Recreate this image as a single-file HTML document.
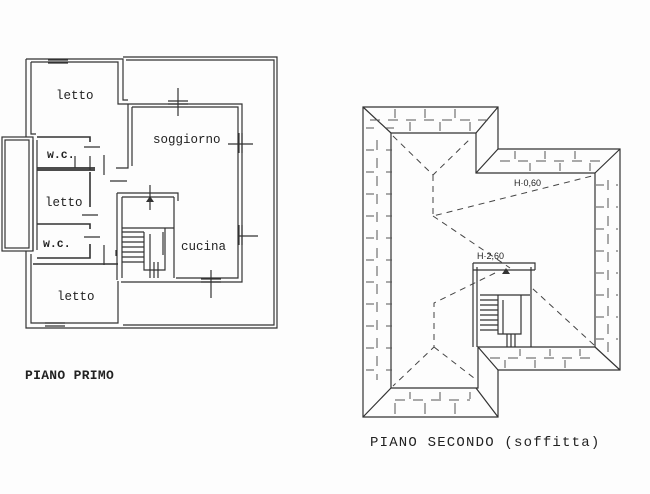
<!DOCTYPE html>
<html><head><style>
html,body{margin:0;padding:0;background:#fff;}
svg{display:block}
text{font-family:"Liberation Mono",monospace;fill:#222;}
</style></head><body>
<svg width="650" height="494" viewBox="0 0 650 494" xmlns="http://www.w3.org/2000/svg">
<rect width="650" height="494" fill="#fdfdfd"/>
<g stroke="#333" fill="none" stroke-width="1.2">
<path d="M123 57 H277 V328 H123"/>
<path d="M126 60 H274 V325 H123"/>
<path d="M26 59 H123 V100 H128"/>
<path d="M31 62 H118 V104 H128"/>
<path d="M26 59 V137 M31 62 V134 H36"/>
<path d="M26 251 V328 H123 M31 254 V323 H118 V281"/>
<rect x="2" y="137" width="31" height="114"/>
<rect x="5" y="140" width="24" height="108"/>
<path d="M33 140 V251 M37 140 V250"/>
<path d="M128 104 H242 V282 H121"/>
<path d="M132 107 H238 V278 H176"/>
<path d="M128 104 V168 H116 M132 107 V166"/>
<path d="M37 137 H90 V142" stroke-width="1.6"/>
<path d="M37 168 H95 M37 170 H95" stroke-width="1.8"/>
<path d="M90 156 V170 M75 156 V168"/>
<path d="M90 172 V207" stroke-width="1.6"/>
<path d="M37 224 H90 V229" stroke-width="1.6"/>
<path d="M90 244 V258 H37" stroke-width="1.6"/>
<path d="M33 264 H118" stroke-width="1.4"/>
<path d="M84 147 H100 M110 181 H127 M82 215 H98 M84 237 H100"/>
<path d="M104 155 V175 M104 245 V265 M116 250 V256"/>
<path d="M117 193 H178 V201 M117 193 V280 M122 197 H174 M174 197 V278 M122 197 V278"/>
<path d="M122 228 H174 M122 232 H144 M122 237 H144 M122 242 H144 M122 247 H144 M122 252 H144 M122 257 H144 M122 262 H144"/>
<path d="M144 232 V270 H165 V228 M165 232 V262 M150 234 V262"/>
<path d="M150 262 V278 M154 262 V278 M158 262 V278"/>
<path d="M150 185 V210 M163 232 V255"/>
<path d="M48 60 H68 M48 63 H68 M168 101 H188 M168 104 H188 M239 133 V153 M242 133 V153 M239 225 V245 M242 225 V245 M201 279 H221 M201 282 H221 M45 326 H65 M45 323 H65"/>
<path d="M178 88 V116 M228 144 H253 M211 270 V298 M238 236 H258"/>
<!-- RIGHT PLAN -->
<path d="M363 107 H498 V149 H620 V370 H498 V417 H363 Z"/>
<path d="M391 133 H476 V173 H595 V347 H478 V388 H391 Z"/>
<path d="M363 107 L391 133 M498 107 L476 133 M498 149 L476 173 M620 149 L595 173 M620 370 L595 347 M498 370 L478 347 M498 417 L476 388 M363 417 L391 388"/>
<path d="M473 263 H535 V270 M473 263 V347 M477 267 V347 M531 267 V347 M473 270 H535"/>
<path d="M480 295 H530 M480 300 H498 M480 305 H498 M480 310 H498 M480 315 H498 M480 320 H498 M480 325 H498 M480 330 H498"/>
<path d="M498 295 V334 H521 V295 M503 300 V334 M507 334 V347 M511 334 V347 M515 334 V347"/>
</g>
<g stroke="#444" stroke-width="1" stroke-dasharray="6,5" fill="none">
<path d="M393 136 L433 175 L470 139 M433 175 L433 216 L592 176 M433 216 L510 268 M594 345 L532 288 M495 273 L434 303 L434 347 L393 386 M434 347 L474 378"/>
</g>
<!-- roof tile pattern -->
<g stroke="#555" stroke-width="1" fill="none">
<g stroke-dasharray="10,8">
<path d="M370 120 H490 M500 161 H605 M377 140 V380 M608 180 V360 M395 400 H470 M490 358 H590"/>
</g>
<g stroke-dasharray="8,12">
<path d="M366 128 H394 M366 150 H392 M366 172 H392 M366 194 H392 M366 216 H392 M366 238 H392 M366 260 H392 M366 282 H392 M366 304 H392 M366 326 H392 M366 348 H392 M366 370 H392"/>
<path d="M596 185 H618 M596 207 H618 M596 229 H618 M596 251 H618 M596 273 H618 M596 295 H618 M596 317 H618 M596 339 H618"/>
</g>
<path d="M395 109 V118 M410 122 V131 M425 109 V118 M440 122 V131 M455 109 V118 M470 122 V131"/>
<path d="M515 151 V159 M530 163 V171 M545 151 V159 M560 163 V171 M575 151 V159 M590 163 V171"/>
<path d="M395 403 V414 M410 392 V399 M425 403 V414 M440 392 V399 M455 403 V414 M470 392 V399"/>
<path d="M505 360 V368 M520 349 V356 M535 360 V368 M550 349 V356 M565 360 V368 M580 349 V356"/>
</g>
<g fill="#333">
<path d="M146 202 l4 -6 l4 6 z M502 274 l4 -6 l4 6 z"/>
</g>
<text x="56" y="99" font-size="12.5">letto</text>
<text x="153" y="143" font-size="12.5">soggiorno</text>
<text x="47" y="158" font-size="11.5" font-weight="bold">w.c.</text>
<text x="45" y="206" font-size="12.5">letto</text>
<text x="43" y="247" font-size="11.5" font-weight="bold">w.c.</text>
<text x="181" y="250" font-size="12.5">cucina</text>
<text x="57" y="300" font-size="12.5">letto</text>
<text x="25" y="379" font-size="13" font-weight="bold" letter-spacing="0.3">PIANO PRIMO</text>
<text x="370" y="446" font-size="14" letter-spacing="1.2">PIANO SECONDO (soffitta)</text>
<text x="514" y="186" font-size="9" style="font-family:'Liberation Sans',sans-serif">H·0,60</text>
<text x="477" y="259" font-size="9" style="font-family:'Liberation Sans',sans-serif">H·2,60</text>
</svg>
</body></html>
